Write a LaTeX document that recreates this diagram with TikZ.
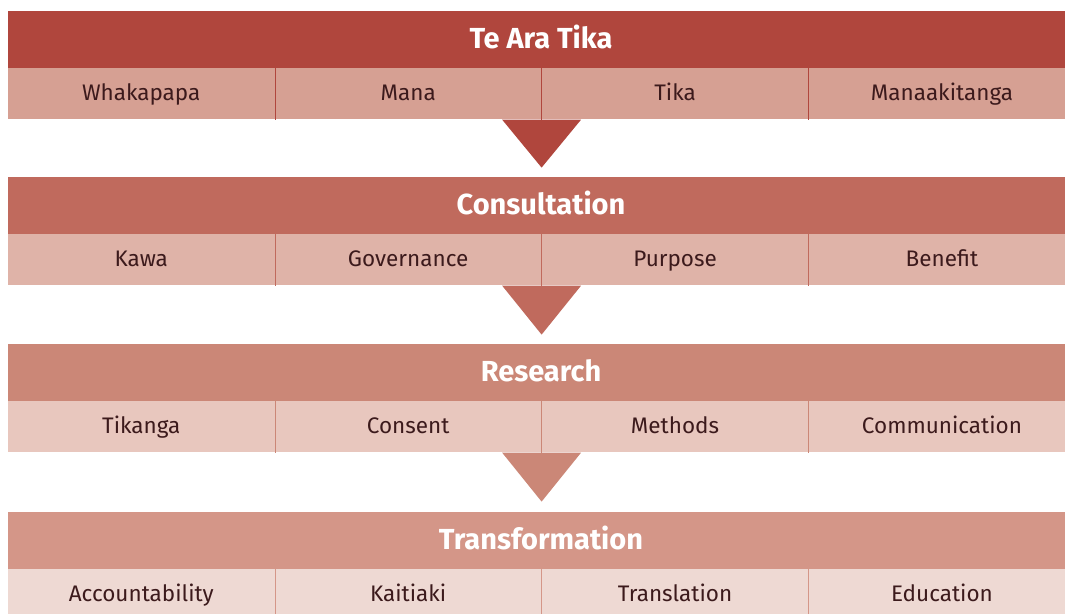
\documentclass[tikz,border=0pt]{standalone}
\usepackage{fontspec}
\setmainfont{Fira Sans}
\usetikzlibrary{positioning}

\begin{document}
\begin{tikzpicture}[x=1pt,y=-1pt]

% ------------------------------------------------ te ara tika colors
\definecolor{tat_red1}{RGB}{176,70,61}    %#B0463D
\definecolor{tat_pink1}{RGB}{214,160,147} %#D6A093
\definecolor{tat_red2}{RGB}{192,106,93}   %#C06A5D
\definecolor{tat_pink2}{RGB}{223,179,168} %#DFB3A8
\definecolor{tat_red3}{RGB}{203,135,119}  %#CB8777
\definecolor{tat_pink3}{RGB}{232,199,190} %#E8C7BE
\definecolor{tat_red4}{RGB}{212,150,136}  %#D49688
\definecolor{tat_pink4}{RGB}{238,217,211} %#EED9D3
\definecolor{tat_text}{RGB}{60,26,28}     %#3C1A1C

\tikzset{
  band/.style={rectangle, inner sep=0pt, minimum width=1066pt, minimum height=57pt,
    text height=18pt, text depth=0pt,
    text=white, font=\fontsize{29}{32}\selectfont\bfseries},
  cell/.style={rectangle, inner sep=0pt, minimum width=266.5pt, minimum height=51pt,
    text height=13pt, text depth=0pt,
    text=tat_text, font=\fontsize{22.5}{25}\selectfont},
}

\useasboundingbox[fill=white] (0,0) rectangle (1065,613);

% band 1
\node[band, fill=tat_red1] (tearatika) at (541,39.5) {Te Ara Tika};
\node[cell, fill=tat_pink1, anchor=north west] (whakapapa) at (tearatika.south west) {Whakapapa};
\node[cell, fill=tat_pink1, right=0pt of whakapapa] (mana) {Mana};
\node[cell, fill=tat_pink1, right=0pt of mana] (tika) {Tika};
\node[cell, fill=tat_pink1, right=0pt of tika] (manaakitanga) {Manaakitanga};
\draw[tat_red1, thin] (mana.north west) -- (mana.south west);
\draw[tat_red1, thin] (tika.north west) -- (tika.south west);
\draw[tat_red1, thin] (manaakitanga.north west) -- (manaakitanga.south west);

% band 2
\node[band, fill=tat_red2] (consultation) at (541,205.5) {Consultation};
\node[cell, fill=tat_pink2, anchor=north west] (kawa) at (consultation.south west) {Kawa};
\node[cell, fill=tat_pink2, right=0pt of kawa] (governance) {Governance};
\node[cell, fill=tat_pink2, right=0pt of governance] (purpose) {Purpose};
\node[cell, fill=tat_pink2, right=0pt of purpose] (benefit) {Benefit};
\draw[tat_red2, thin] (governance.north west) -- (governance.south west);
\draw[tat_red2, thin] (purpose.north west) -- (purpose.south west);
\draw[tat_red2, thin] (benefit.north west) -- (benefit.south west);

% band 3
\node[band, fill=tat_red3] (research) at (541,372.5) {Research};
\node[cell, fill=tat_pink3, anchor=north west] (tikanga) at (research.south west) {Tikanga};
\node[cell, fill=tat_pink3, right=0pt of tikanga] (consent) {Consent};
\node[cell, fill=tat_pink3, right=0pt of consent] (methods) {Methods};
\node[cell, fill=tat_pink3, right=0pt of methods] (communication) {Communication};
\draw[tat_red3, thin] (consent.north west) -- (consent.south west);
\draw[tat_red3, thin] (methods.north west) -- (methods.south west);
\draw[tat_red3, thin] (communication.north west) -- (communication.south west);

% band 4
\node[band, fill=tat_red4] (transformation) at (541,540.5) {Transformation};
\node[cell, fill=tat_pink4, anchor=north west] (accountability) at (transformation.south west) {Accountability};
\node[cell, fill=tat_pink4, right=0pt of accountability] (kaitiaki) {Kaitiaki};
\node[cell, fill=tat_pink4, right=0pt of kaitiaki] (translation) {Translation};
\node[cell, fill=tat_pink4, right=0pt of translation] (education) {Education};
\draw[tat_red4, thin] (kaitiaki.north west) -- (kaitiaki.south west);
\draw[tat_red4, thin] (translation.north west) -- (translation.south west);
\draw[tat_red4, thin] (education.north west) -- (education.south west);

% arrows between bands
\fill[tat_red1] ([xshift=-39.5pt]mana.south east) -- ([xshift=39.5pt]mana.south east) -- ([yshift=-48pt]mana.south east) -- cycle;
\fill[tat_red2] ([xshift=-39.5pt]governance.south east) -- ([xshift=39.5pt]governance.south east) -- ([yshift=-49pt]governance.south east) -- cycle;
\fill[tat_red3] ([xshift=-39.5pt]consent.south east) -- ([xshift=39.5pt]consent.south east) -- ([yshift=-49pt]consent.south east) -- cycle;

\end{tikzpicture}
\end{document}
